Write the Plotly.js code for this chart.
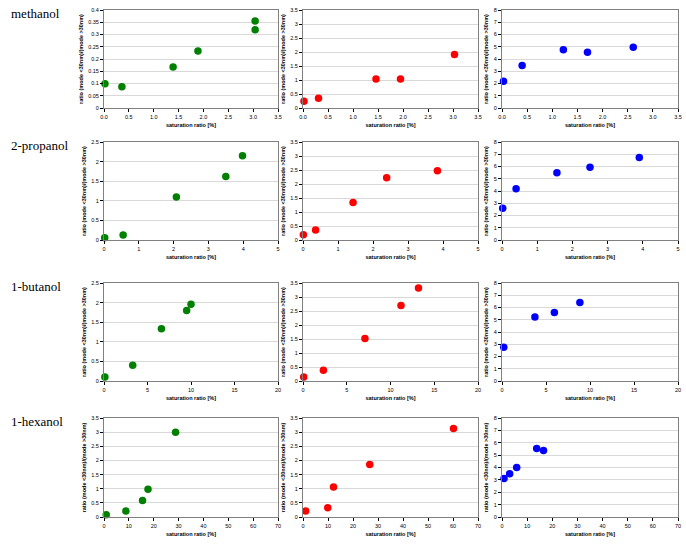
<!DOCTYPE html>
<html><head><meta charset="utf-8">
<script src="https://cdn.plot.ly/plotly-3.0.1.min.js"></script>
<style>html,body{margin:0;padding:0;background:#fff}#chart{width:686px;height:544px}</style>
</head><body><div id="chart"></div>
<script>
// Row labels (alcohols)
const alcohols = ["methanol", "2-propanol", "1-butanol", "1-hexanol"];

// methanol
const methanolGreenX = [0.02, 0.36, 1.39, 1.89, 3.04, 3.04];
const methanolGreenY = [0.099, 0.087, 0.167, 0.233, 0.355, 0.319];
const methanolRedX = [0.02, 0.31, 1.46, 1.95, 3.03];
const methanolRedY = [0.24, 0.35, 1.04, 1.04, 1.91];
const methanolBlueX = [0.03, 0.40, 1.22, 1.70, 2.61];
const methanolBlueY = [2.18, 3.47, 4.75, 4.56, 4.95];

// 2-propanol
const propanolGreenX = [0.02, 0.55, 2.08, 3.50, 3.98];
const propanolGreenY = [0.06, 0.13, 1.10, 1.62, 2.15];
const propanolRedX = [0.01, 0.36, 1.43, 2.39, 3.84];
const propanolRedY = [0.19, 0.36, 1.34, 2.22, 2.47];
const propanolBlueX = [0.02, 0.40, 1.56, 2.50, 3.90];
const propanolBlueY = [2.60, 4.18, 5.48, 5.94, 6.73];

// 1-butanol
const butanolGreenX = [0.1, 3.3, 6.6, 9.5, 10.0];
const butanolGreenY = [0.10, 0.40, 1.33, 1.80, 1.96];
const butanolRedX = [0.08, 2.33, 7.08, 11.2, 13.2];
const butanolRedY = [0.14, 0.38, 1.52, 2.70, 3.32];
const butanolBlueX = [0.2, 3.74, 5.95, 8.85];
const butanolBlueY = [2.75, 5.23, 5.60, 6.41];

// 1-hexanol
const hexanolGreenX = [0.9, 8.8, 15.5, 17.7, 28.8];
const hexanolGreenY = [0.08, 0.21, 0.58, 0.98, 3.00];
const hexanolRedX = [1.07, 9.9, 12.2, 26.7, 60.2];
const hexanolRedY = [0.21, 0.33, 1.06, 1.86, 3.13];
const hexanolBlueX = [0.8, 3.05, 5.84, 13.8, 16.5];
const hexanolBlueY = [3.12, 3.50, 3.99, 5.53, 5.37];

// axis settings per row / column
const xRanges = [[0, 3.5], [0, 5], [0, 20], [0, 70]];
const xDticks = [0.5, 1, 5, 10];
const xFormats = [".1f", "", "", ""];
const yRangesCol1 = [[0, 0.4], [0, 2.5], [0, 2.5], [0, 3.5]];
const yDticksCol1 = [0.05, 0.5, 0.5, 0.5];
const yRangeCol2 = [0, 3.5], yDtickCol2 = 0.5;
const yRangeCol3 = [0, 8], yDtickCol3 = 1;

const xTitle = "saturation ratio [%]";
const yTitle = "ratio (mode &lt;30nm)/(mode &gt;30nm)";

const panels = [
  [[methanolGreenX, methanolGreenY], [methanolRedX, methanolRedY], [methanolBlueX, methanolBlueY]],
  [[propanolGreenX, propanolGreenY], [propanolRedX, propanolRedY], [propanolBlueX, propanolBlueY]],
  [[butanolGreenX, butanolGreenY], [butanolRedX, butanolRedY], [butanolBlueX, butanolBlueY]],
  [[hexanolGreenX, hexanolGreenY], [hexanolRedX, hexanolRedY], [hexanolBlueX, hexanolBlueY]]
];
const colors = ["#008000", "#ff0000", "#0000ff"];

// pixel geometry
const W = 686, H = 544;
const colPx = [[104, 278], [303, 478], [502, 678]];
const rowPx = [[10, 108], [142, 240], [283, 381], [418, 517]];

const data = [];
const layout = {
  width: W, height: H,
  margin: {l: 0, r: 0, t: 0, b: 0},
  paper_bgcolor: "#ffffff", plot_bgcolor: "#ffffff",
  showlegend: false,
  font: {family: "Liberation Sans, Arial, sans-serif", size: 6, color: "#000"},
  annotations: []
};

let n = 0;
for (let r = 0; r < 4; r++) {
  for (let c = 0; c < 3; c++) {
    n++;
    const xa = "xaxis" + (n === 1 ? "" : n), ya = "yaxis" + (n === 1 ? "" : n);
    const xr = "x" + (n === 1 ? "" : n), yr = "y" + (n === 1 ? "" : n);
    const p = panels[r][c];
    data.push({
      type: "scatter", mode: "markers", x: p[0], y: p[1], xaxis: xr, yaxis: yr,
      marker: {color: colors[c], size: 7.5, line: {width: 0}},
      cliponaxis: false
    });
    const yRange = c === 0 ? yRangesCol1[r] : (c === 1 ? yRangeCol2 : yRangeCol3);
    const yDtick = c === 0 ? yDticksCol1[r] : (c === 1 ? yDtickCol2 : yDtickCol3);
    layout[xa] = {
      domain: [colPx[c][0] / W, colPx[c][1] / W],
      anchor: yr, range: xRanges[r], dtick: xDticks[r], tick0: 0,
      tickformat: xFormats[r], showgrid: false, zeroline: false,
      showline: true, linecolor: "#808080", linewidth: 1, mirror: true,
      ticks: "outside", ticklen: 3, tickcolor: "#000", tickwidth: 1,
      tickfont: {size: 5.5, color: "#000"},
      title: {text: "<b>" + xTitle + "</b>", font: {size: 5.5, color: "#000"}, standoff: 4}
    };
    layout[ya] = {
      domain: [1 - rowPx[r][1] / H, 1 - rowPx[r][0] / H],
      anchor: xr, range: yRange, dtick: yDtick, tick0: 0,
      showgrid: true, gridcolor: "#d9d9d9", gridwidth: 1, zeroline: false,
      showline: true, linecolor: "#808080", linewidth: 1, mirror: true,
      ticks: "outside", ticklen: 3, tickcolor: "#000", tickwidth: 1,
      tickfont: {size: 5.5, color: "#000"},
      title: {text: "<b>" + yTitle + "</b>", font: {size: 5.5, color: "#000"}, standoff: 4}
    };
  }
  layout.annotations.push({
    text: alcohols[r], xref: "paper", yref: "paper",
    x: 9 / W, y: 1 - (rowPx[r][0] - 6) / H, xanchor: "left", yanchor: "top",
    showarrow: false, font: {family: "Liberation Serif, Times New Roman, serif", size: 13, color: "#000"}
  });
}

Plotly.newPlot("chart", data, layout, {displayModeBar: false, staticPlot: true});
</script>
</body></html>
